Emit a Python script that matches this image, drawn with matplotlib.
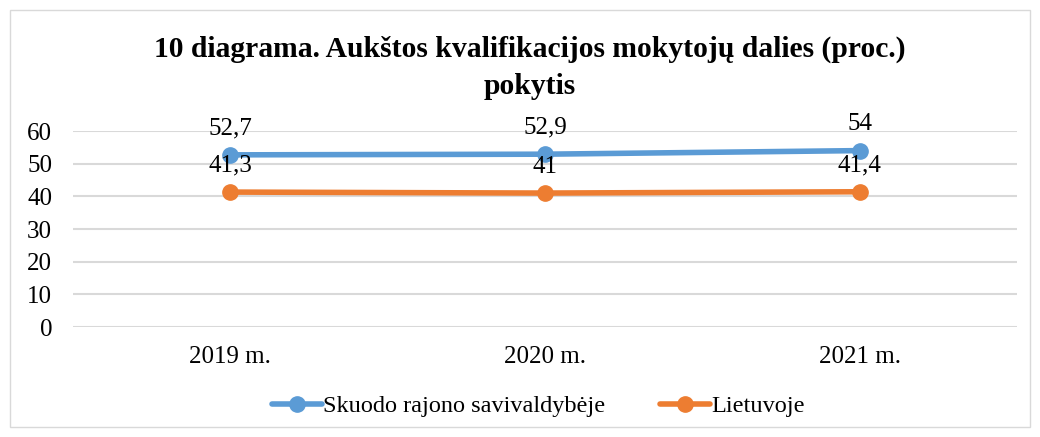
import matplotlib
matplotlib.use("Agg")
import matplotlib.pyplot as plt
from matplotlib.patches import Rectangle

plt.rcParams['font.family'] = ['Liberation Serif', 'DejaVu Serif']

categories = ["2019 m.", "2020 m.", "2021 m."]
skuodas = [52.7, 52.9, 54]
lietuva = [41.3, 41, 41.4]
series_names = ["Skuodo rajono savivaldybėje", "Lietuvoje"]
labels_sk = ["52,7", "52,9", "54"]
labels_lt = ["41,3", "41", "41,4"]
title = "10 diagrama. Aukštos kvalifikacijos mokytojų dalies (proc.)\npokytis"

fig = plt.figure(figsize=(10.4, 4.37), dpi=100)
fig.patches.append(Rectangle((10/1040, 10/437), 1020/1040, 417/437, transform=fig.transFigure,
                             fill=False, edgecolor='#d9d9d9', linewidth=1))
ax = fig.add_axes([73/1040, (437-327)/437, (1017-73)/1040, (327-131)/437])

x = list(range(len(categories)))
blue = '#5b9bd5'
orange = '#ed7d31'
ax.plot(x, skuodas, color=blue, linewidth=4, marker='o', markersize=11, label=series_names[0], solid_capstyle='round')
ax.plot(x, lietuva, color=orange, linewidth=4, marker='o', markersize=11, label=series_names[1], solid_capstyle='round')

for xi, v, t in zip(x, skuodas, labels_sk):
    ax.annotate(t, (xi, v), xytext=(0, 11), textcoords='offset points', ha='center', va='bottom', fontsize=18)
for xi, v, t in zip(x, lietuva, labels_lt):
    ax.annotate(t, (xi, v), xytext=(0, 11), textcoords='offset points', ha='center', va='bottom', fontsize=18)

ax.set_xlim(-0.5, 2.5)
ax.set_ylim(0, 60)
ax.set_yticks(range(0, 61, 10))
ax.set_xticks(x)
ax.set_xticklabels(categories)
ax.tick_params(axis='both', length=0, labelsize=18, colors='black')
ax.tick_params(axis='x', pad=14)
ax.tick_params(axis='y', pad=15)
ax.grid(axis='y', color='#d9d9d9', linewidth=1.5)
ax.set_axisbelow(True)
for s in ax.spines.values():
    s.set_visible(False)

fig.text(530/1040, 1 - 68/437, title, ha='center', va='center', fontsize=21.3, fontweight='bold', linespacing=1.45)

leg = fig.legend(loc='center', bbox_to_anchor=(538/1040, 1 - 406/437), ncol=2, frameon=False,
                 fontsize=17.5, handlelength=2.05, columnspacing=2.26, handletextpad=0.05)

fig.savefig("out.png", dpi=100)
